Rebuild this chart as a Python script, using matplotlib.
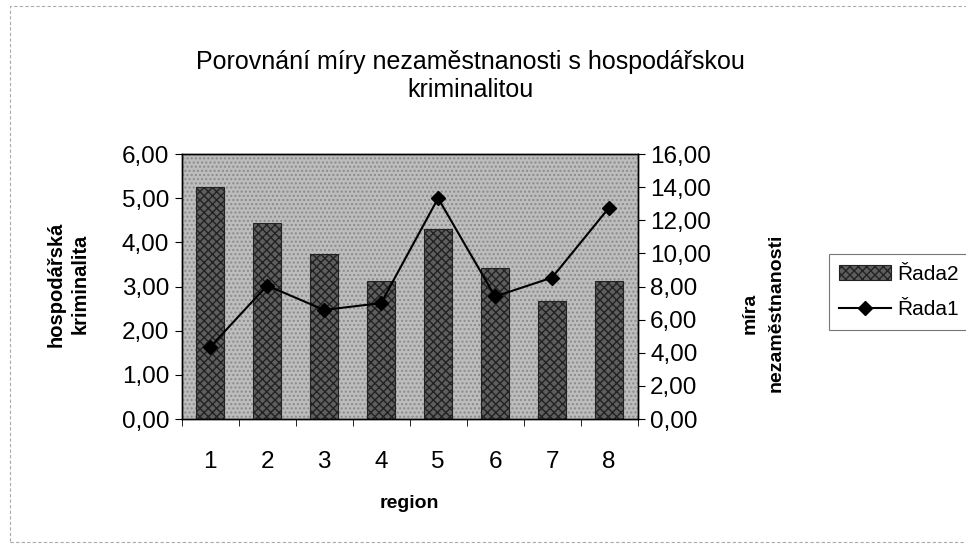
import numpy as np
import matplotlib.pyplot as plt
from matplotlib.patches import Rectangle
from matplotlib.ticker import FuncFormatter, FixedLocator

plt.rcParams['font.family'] = ['Liberation Sans', 'DejaVu Sans']

# Data
regiony = [1, 2, 3, 4, 5, 6, 7, 8]
rada2 = [5.25, 4.43, 3.73, 3.13, 4.30, 3.42, 2.68, 3.13]  # hospodářská kriminalita
rada1 = [4.34, 8.06, 6.59, 7.00, 13.33, 7.40, 8.54, 12.76]  # míra nezaměstnanosti

carka = FuncFormatter(lambda v, p: f"{v:.2f}".replace('.', ','))

fig = plt.figure(figsize=(9.66, 5.5), dpi=100)
ax = fig.add_axes([0.188, 0.238, 0.472, 0.482])
ax2 = ax.twinx()

# Plot area background (dotted gray)
ax.set_facecolor('#bdbdbd')
plt.rcParams['hatch.color'] = '#7a7a7a'
ax.add_patch(Rectangle((0, 0), 1, 1, transform=ax.transAxes, facecolor='none',
                       hatch='....', edgecolor='#8a8a8a', lw=0, zorder=0))

x = np.arange(len(regiony))
bars = ax.bar(x, rada2, width=0.5, color='#5e5e5e', edgecolor='#222222',
              hatch='xxxx', linewidth=0.8, label='Řada2', zorder=2)
ln, = ax2.plot(x, rada1, color='black', marker='D', markersize=7, lw=1.5,
               label='Řada1', zorder=3)

ax.set_xlim(-0.5, len(regiony) - 0.5)
ax.set_ylim(0, 6)
ax2.set_ylim(0, 16)
ax.set_yticks(np.arange(0, 6.01, 1))
ax2.set_yticks(np.arange(0, 16.01, 2))
ax.yaxis.set_major_formatter(carka)
ax2.yaxis.set_major_formatter(carka)

ax.set_xticks(x)
ax.set_xticklabels([str(r) for r in regiony])
ax.xaxis.set_minor_locator(FixedLocator(np.arange(-0.5, len(regiony), 1)))
ax.tick_params(axis='x', which='major', length=0, pad=23, labelsize=17.5)
ax.tick_params(axis='x', which='minor', length=5, direction='out')
ax.tick_params(axis='y', length=5, direction='out', labelsize=17.5, pad=4)
ax2.tick_params(axis='y', length=5, direction='out', labelsize=17.5, pad=4)

for a in (ax, ax2):
    for s in a.spines.values():
        s.set_linewidth(1.0)
        s.set_color('black')

ax.set_xlabel('region', fontsize=14, fontweight='bold', labelpad=16)

# popisky os
fig.text(68 / 966, 1 - 284 / 550, 'hospodářská\nkriminalita', rotation=90,
         ha='center', va='center', multialignment='center',
         fontsize=14.5, fontweight='bold', linespacing=1.3)
fig.text(763 / 966, 1 - 313 / 550, 'míra\nnezaměstnanosti', rotation=90,
         ha='center', va='center', multialignment='center',
         fontsize=14, fontweight='bold', linespacing=1.7)

fig.text(0.487, 0.862, 'Porovnání míry nezaměstnanosti s hospodářskou\nkriminalitou',
         ha='center', va='center', fontsize=18, linespacing=1.25)

leg = fig.legend([bars, ln], ['Řada2', 'Řada1'], loc='upper left',
                 bbox_to_anchor=(0.858, 0.538), fontsize=15, frameon=True,
                 fancybox=False, edgecolor='#555555', handlelength=2.5,
                 borderpad=0.5, labelspacing=0.8, handletextpad=0.3,
                 borderaxespad=0)
leg.get_frame().set_linewidth(0.8)

# outer border of chart
fig.add_artist(Rectangle((0.01, 0.015), 0.995, 0.975, transform=fig.transFigure,
                         fill=False, edgecolor='#aaaaaa', lw=0.8, linestyle=(0, (3, 2))))

fig.savefig('out.png', dpi=100)
